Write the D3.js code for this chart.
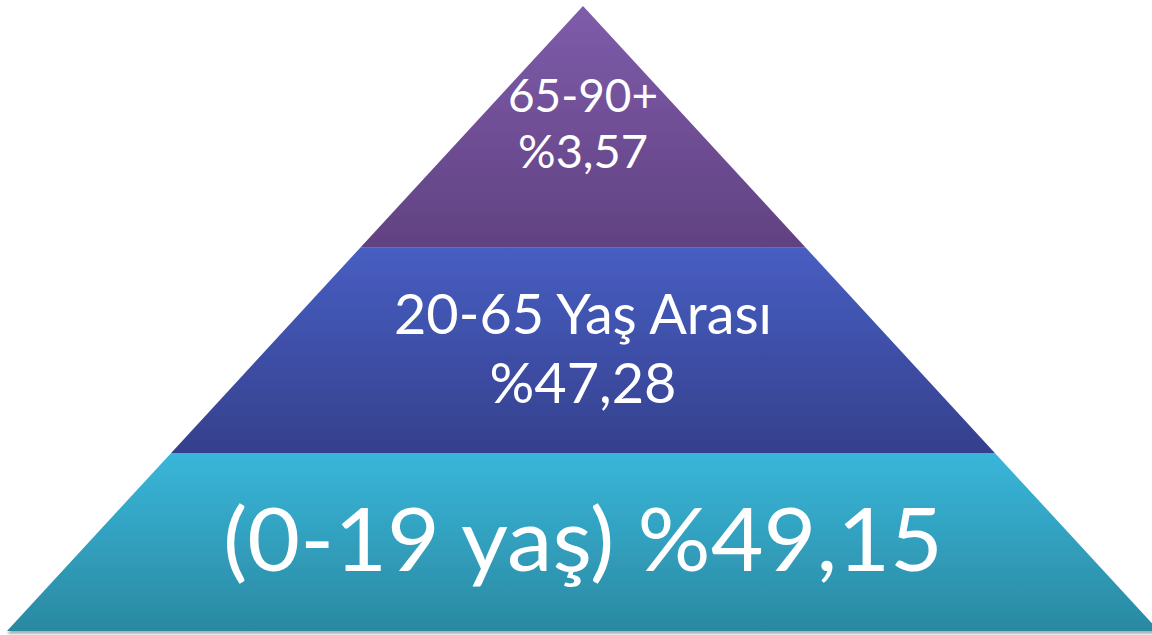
<!DOCTYPE html>
<html>
<head>
<meta charset="utf-8">
<script src="https://cdn.jsdelivr.net/npm/d3@7"></script>
<style>
  html, body { margin: 0; padding: 0; background: #ffffff; }
  svg { display: block; }
</style>
</head>
<body>
<svg id="chart" width="1152" height="635"></svg>
<script>
// ---- data ----
const labels = ["65-90+", "20-65 Yaş Arası", "(0-19 yaş)"];
const values = [3.57, 47.28, 49.15];

// ---- layout / style ----
const W = 1152, H = 635;
const apexX = 583, apexY = 6, baseY = 631, baseHalf = 576;
const stops = [0, 0.386, 0.715, 1];            // layer boundaries (fraction of pyramid height)
const gradColors = [
  ["#7E5CAA", "#614282"],
  ["#475EC2", "#35408D"],
  ["#39B6DA", "#2A89A1"]
];

const tr = d3.formatLocale({decimal: ",", thousands: ".", grouping: [3], currency: ["", ""]});
const fmt = v => "%" + tr.format(".2f")(v);

const svg = d3.select("#chart");
const defs = svg.append("defs");

const y = d3.scaleLinear().domain([0, 1]).range([apexY, baseY]);
const half = d3.scaleLinear().domain([0, 1]).range([0, baseHalf]);

const f = defs.append("filter").attr("id", "shadow")
  .attr("x", "-5%").attr("y", "-5%").attr("width", "110%").attr("height", "115%");
f.append("feDropShadow").attr("dx", 0).attr("dy", 3).attr("stdDeviation", 1.2)
  .attr("flood-color", "#000").attr("flood-opacity", 0.3);

gradColors.forEach((c, i) => {
  const g = defs.append("linearGradient").attr("id", "g" + i)
    .attr("x1", 0).attr("y1", 0).attr("x2", 0).attr("y2", 1);
  g.append("stop").attr("offset", "0%").attr("stop-color", c[0]);
  g.append("stop").attr("offset", "100%").attr("stop-color", c[1]);
});

const layers = labels.map((l, i) => ({label: l, value: values[i], t0: stops[i], t1: stops[i + 1], i}));

const pg = svg.append("g").attr("filter", "url(#shadow)");
pg.selectAll("path").data(layers).join("path")
  .attr("d", d => {
    const ya = y(d.t0), yb = y(d.t1);
    const ha = half(d.t0), hb = half(d.t1);
    return `M${apexX - ha},${ya}L${apexX + ha},${ya}L${apexX + hb},${yb}L${apexX - hb},${yb}Z`;
  })
  .attr("fill", d => `url(#g${d.i})`);

// ---- text ----
const fontFamily = "Lato, 'Open Sans', sans-serif";
const textSpecs = [
  {lines: [labels[0], fmt(values[0])], size: 47, baselines: [112, 168], widths: [150, 130]},
  {lines: [labels[1], fmt(values[1])], size: 57, baselines: [334, 403], widths: [378, 187]},
  {lines: [labels[2] + " " + fmt(values[2])], size: 88, baselines: [571], widths: [720]}
];

const tg = svg.append("g");
textSpecs.forEach(s => {
  s.lines.forEach((ln, j) => {
    tg.append("text")
      .attr("x", apexX)
      .attr("y", s.baselines[j])
      .attr("text-anchor", "middle")
      .attr("fill", "#ffffff")
      .attr("font-family", fontFamily)
      .attr("font-size", s.size)
      .attr("textLength", s.widths[j])
      .attr("lengthAdjust", "spacingAndGlyphs")
      .text(ln);
  });
});
</script>
</body>
</html>
